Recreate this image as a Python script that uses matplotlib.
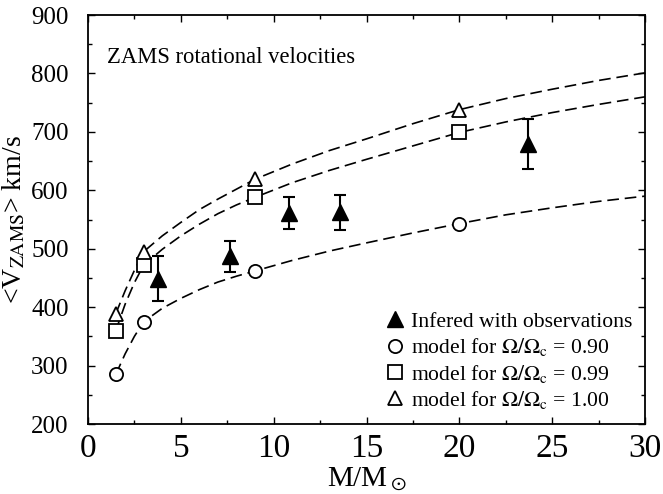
import matplotlib
matplotlib.use('Agg')
import matplotlib.pyplot as plt
from matplotlib.ticker import MultipleLocator

plt.rcParams['font.family'] = ['Liberation Serif', 'DejaVu Serif']
plt.rcParams['mathtext.fontset'] = 'stix'

# model points (M/Msun, km/s)
mass_model = [1.5, 3, 9, 20]
v_090 = [285, 375, 462, 543]
v_099 = [360, 472, 588, 699]
v_100 = [389, 495, 619, 738]

# dashed fit curves
curve_m = [1.5, 2, 2.5, 3, 4, 5, 6, 7, 8, 9, 11, 13, 15, 17.5, 20, 22.5, 25, 27.5, 30]
curve_090 = [285, 320, 350, 375, 398, 415, 430, 443, 453, 462, 480, 496, 510, 527, 543, 558, 570, 581, 590]
curve_099 = [360, 405, 442, 472, 499, 522, 542, 560, 575, 588, 613, 634, 653, 676, 699, 717, 733, 747, 760]
curve_100 = [389, 428, 463, 495, 522, 545, 567, 585, 602, 619, 645, 668, 688, 714, 738, 757, 773, 788, 801]

# inferred from observations
mass_obs = [3.75, 7.65, 10.85, 13.55, 23.7]
v_obs = [449, 487, 561, 562, 679]
v_err = [38, 27, 27, 30, 43]

fig = plt.figure(figsize=(6.63, 4.94), dpi=100)
ax = fig.add_axes([0.1327, 0.1417, 0.8402, 0.8279])

dash = dict(color='black', lw=1.2, dashes=(7, 3.5))
ax.plot(curve_m, curve_090, **dash)
ax.plot(curve_m, curve_099, **dash)
ax.plot(curve_m, curve_100, **dash)

ax.errorbar(mass_obs, v_obs, yerr=v_err, fmt='none', ecolor='black',
            capsize=4, elinewidth=1.5, capthick=1.5, zorder=3)
ax.plot(mass_obs, v_obs, '^', color='black', ms=11,
        label='Infered with observations', zorder=3)
ax.plot(mass_model, v_090, 'o', mfc='white', mec='black', mew=1.3, ms=9.5,
        label=r'model for $\Omega/\Omega_{\rm c}$ = 0.90', zorder=4)
ax.plot(mass_model, v_099, 's', mfc='white', mec='black', mew=1.3, ms=10.5,
        label=r'model for $\Omega/\Omega_{\rm c}$ = 0.99', zorder=4)
ax.plot(mass_model, v_100, '^', mfc='white', mec='black', mew=1.3, ms=10,
        label=r'model for $\Omega/\Omega_{\rm c}$ = 1.00', zorder=4)

ax.set_xlim(0, 30)
ax.set_ylim(200, 900)
ax.xaxis.set_major_locator(MultipleLocator(5))
ax.xaxis.set_minor_locator(MultipleLocator(2.5))
ax.yaxis.set_major_locator(MultipleLocator(100))
ax.yaxis.set_minor_locator(MultipleLocator(50))
ax.tick_params(which='both', direction='in', top=True, right=True, width=1)
ax.tick_params(which='major', length=5)
ax.tick_params(which='minor', length=3)
ax.tick_params(axis='x', labelsize=24, pad=7)
ax.tick_params(axis='y', labelsize=18, pad=14)
for s in ax.spines.values():
    s.set_linewidth(1.3)

ax.set_xlabel(r'M/M$_\odot$', fontsize=21)
ax.xaxis.set_label_coords(0.5, -0.1)
ax.set_ylabel(r'<V$_{\rm ZAMS}$> km/s', fontsize=20)
ax.yaxis.set_label_coords(-0.108, 0.5)

ax.text(0.035, 0.897, 'ZAMS rotational velocities', transform=ax.transAxes,
        fontsize=16.3, va='center', ha='left')

ax.legend(loc='lower right', frameon=False, fontsize=15.6, handletextpad=0.1,
          labelspacing=0.2, borderaxespad=0.2, handlelength=1.2)

fig.savefig('out.png', dpi=100)
